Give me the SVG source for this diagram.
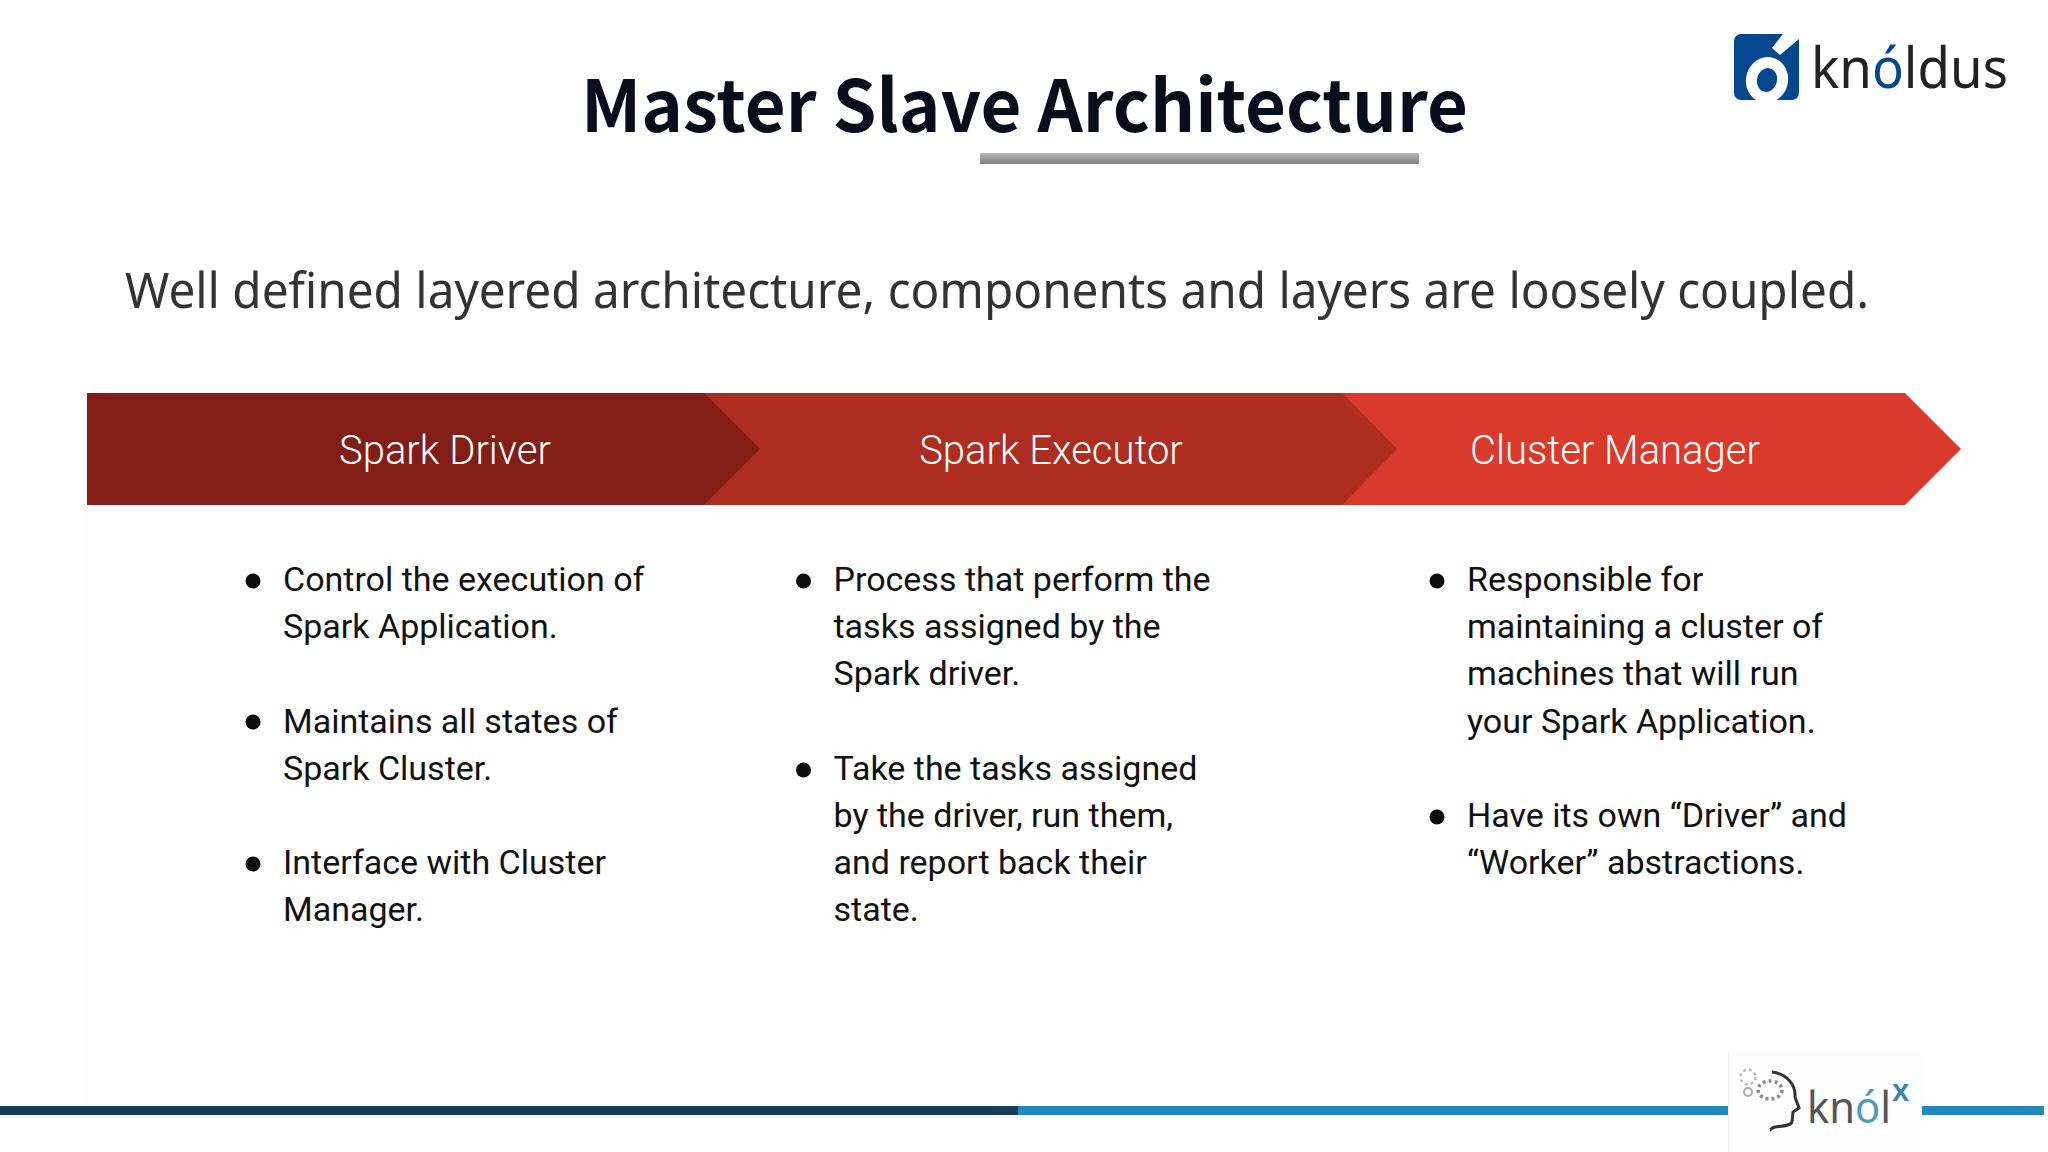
<svg xmlns="http://www.w3.org/2000/svg" width="2048" height="1152" viewBox="0 0 2048 1152">
<defs>
<linearGradient id="ug" x1="0" y1="0" x2="0" y2="1"><stop offset="0" stop-color="#b8b8b8"/><stop offset="1" stop-color="#7f7f7f"/></linearGradient>
</defs>
<style>
.title{font-family:"Noto Sans CJK SC","Noto Sans",sans-serif;font-weight:700;font-size:72px;fill:#0a0d1c}
.sub{font-family:"Noto Sans","Open Sans",sans-serif;font-size:49px;fill:#333}
.head{font-family:Roboto,"Liberation Sans",sans-serif;font-size:40px;fill:#fff;text-anchor:middle;font-weight:300}
.body{font-family:Roboto,"Liberation Sans",sans-serif;font-size:34px;fill:#111}
.dot{fill:#0c0c0c}
.logo{font-family:"Noto Sans","Open Sans",sans-serif;fill:#222}
</style>
<rect width="2048" height="1152" fill="#fff"/>
<rect x="82" y="505" width="1888" height="600" fill="#fefefe"/>
<g id="title"><text class="title" x="581" y="132" textLength="887" lengthAdjust="spacingAndGlyphs">Master Slave Architecture</text><rect x="980" y="153" width="439" height="11" fill="url(#ug)"/></g>
<g id="subtitle"><text class="sub" x="125" y="308" textLength="1744" lengthAdjust="spacingAndGlyphs">Well defined layered architecture, components and layers are loosely coupled.</text></g>
<g id="node-cluster-manager"><polygon points="1300,393 1905,393 1961,449 1905,505 1300,505" fill="#d93a2b"/><text class="head" x="1615" y="464">Cluster Manager</text></g>
<g id="node-spark-executor"><polygon points="660,393 1342,393 1397,449 1342,505 660,505" fill="#ae2d21"/><text class="head" x="1051" y="464">Spark Executor</text></g>
<g id="node-spark-driver"><polygon points="87,393 704,393 760,449 704,505 87,505" fill="#821e16"/><text class="head" x="445" y="464">Spark Driver</text></g>
<g id="connectors"></g>
<g id="col1">
<circle class="dot" cx="253" cy="581" r="7.5"/><circle class="dot" cx="253" cy="722" r="7.5"/><circle class="dot" cx="253" cy="864" r="7.5"/>
<text class="body" x="283" y="591">Control the execution of</text>
<text class="body" x="283" y="638">Spark Application.</text>
<text class="body" x="283" y="733">Maintains all states of</text>
<text class="body" x="283" y="780">Spark Cluster.</text>
<text class="body" x="283" y="874">Interface with Cluster</text>
<text class="body" x="283" y="921">Manager.</text>
</g>
<g id="col2">
<circle class="dot" cx="803.500" cy="581" r="7.5"/><circle class="dot" cx="803.500" cy="770" r="7.5"/>
<text class="body" x="833.500" y="591">Process that perform the</text>
<text class="body" x="833.500" y="638">tasks assigned by the</text>
<text class="body" x="833.500" y="685">Spark driver.</text>
<text class="body" x="833.500" y="780">Take the tasks assigned</text>
<text class="body" x="833.500" y="827">by the driver, run them,</text>
<text class="body" x="833.500" y="874">and report back their</text>
<text class="body" x="833.500" y="921">state.</text>
</g>
<g id="col3">
<circle class="dot" cx="1437" cy="581" r="7.5"/><circle class="dot" cx="1437" cy="817" r="7.5"/>
<text class="body" x="1467" y="591">Responsible for</text>
<text class="body" x="1467" y="638">maintaining a cluster of</text>
<text class="body" x="1467" y="685">machines that will run</text>
<text class="body" x="1467" y="733">your Spark Application.</text>
<text class="body" x="1467" y="827">Have its own “Driver” and</text>
<text class="body" x="1467" y="874">“Worker” abstractions.</text>
</g>
<g id="footer">
<rect x="0" y="1106" width="1018" height="9" fill="#143f57"/>
<rect x="1018" y="1106" width="710" height="9" fill="#2189bd"/>
<rect x="1922" y="1106" width="122" height="9" fill="#2189bd"/>
</g>
<g id="logo-knoldus">
<path d="M1741 34H1783L1772 48L1780 55L1799 39V93a7 7 0 0 1-7 7H1741a7 7 0 0 1-7-7V41a7 7 0 0 1 7-7Z" fill="#04478f"/>
<ellipse cx="1767" cy="80" rx="15.500" ry="17.500" transform="rotate(15 1767 80)" fill="none" stroke="#fff" stroke-width="11"/>
<text class="logo" x="1811" y="88" font-size="56" textLength="197" lengthAdjust="spacingAndGlyphs">kn<tspan fill="#04478f">ó</tspan>ldus</text>
</g>
<g id="logo-knolx">
<rect x="1728" y="1052" width="194" height="100" fill="#fdfdfd"/>
<rect x="1728" y="1052" width="1" height="100" fill="#f3f3f3"/>
<path d="M1772 1072C1788 1074 1796 1086 1795 1097L1799 1108L1793 1112L1792 1122C1790 1126 1782 1126 1775 1127C1771 1128 1771 1130 1770 1130" fill="none" stroke="#333" stroke-width="3"/>
<circle cx="1748" cy="1077" r="7.5" fill="none" stroke="#bbb" stroke-width="2.5" stroke-dasharray="3 3"/>
<circle cx="1748" cy="1092" r="4" fill="none" stroke="#aaa" stroke-width="2"/>
<ellipse cx="1770" cy="1090" rx="12" ry="9" fill="none" stroke="#889" stroke-width="3.5" stroke-dasharray="3 3"/>
<text x="1807" y="1123" font-family="Noto Sans,sans-serif" font-size="44" fill="#555" textLength="84" lengthAdjust="spacingAndGlyphs">kn<tspan fill="#4f9ab8">ó</tspan>l</text>
<text x="1892" y="1101" font-family="Noto Sans,sans-serif" font-size="31" font-weight="600" fill="#3d86a8">x</text>
</g>
</svg>
